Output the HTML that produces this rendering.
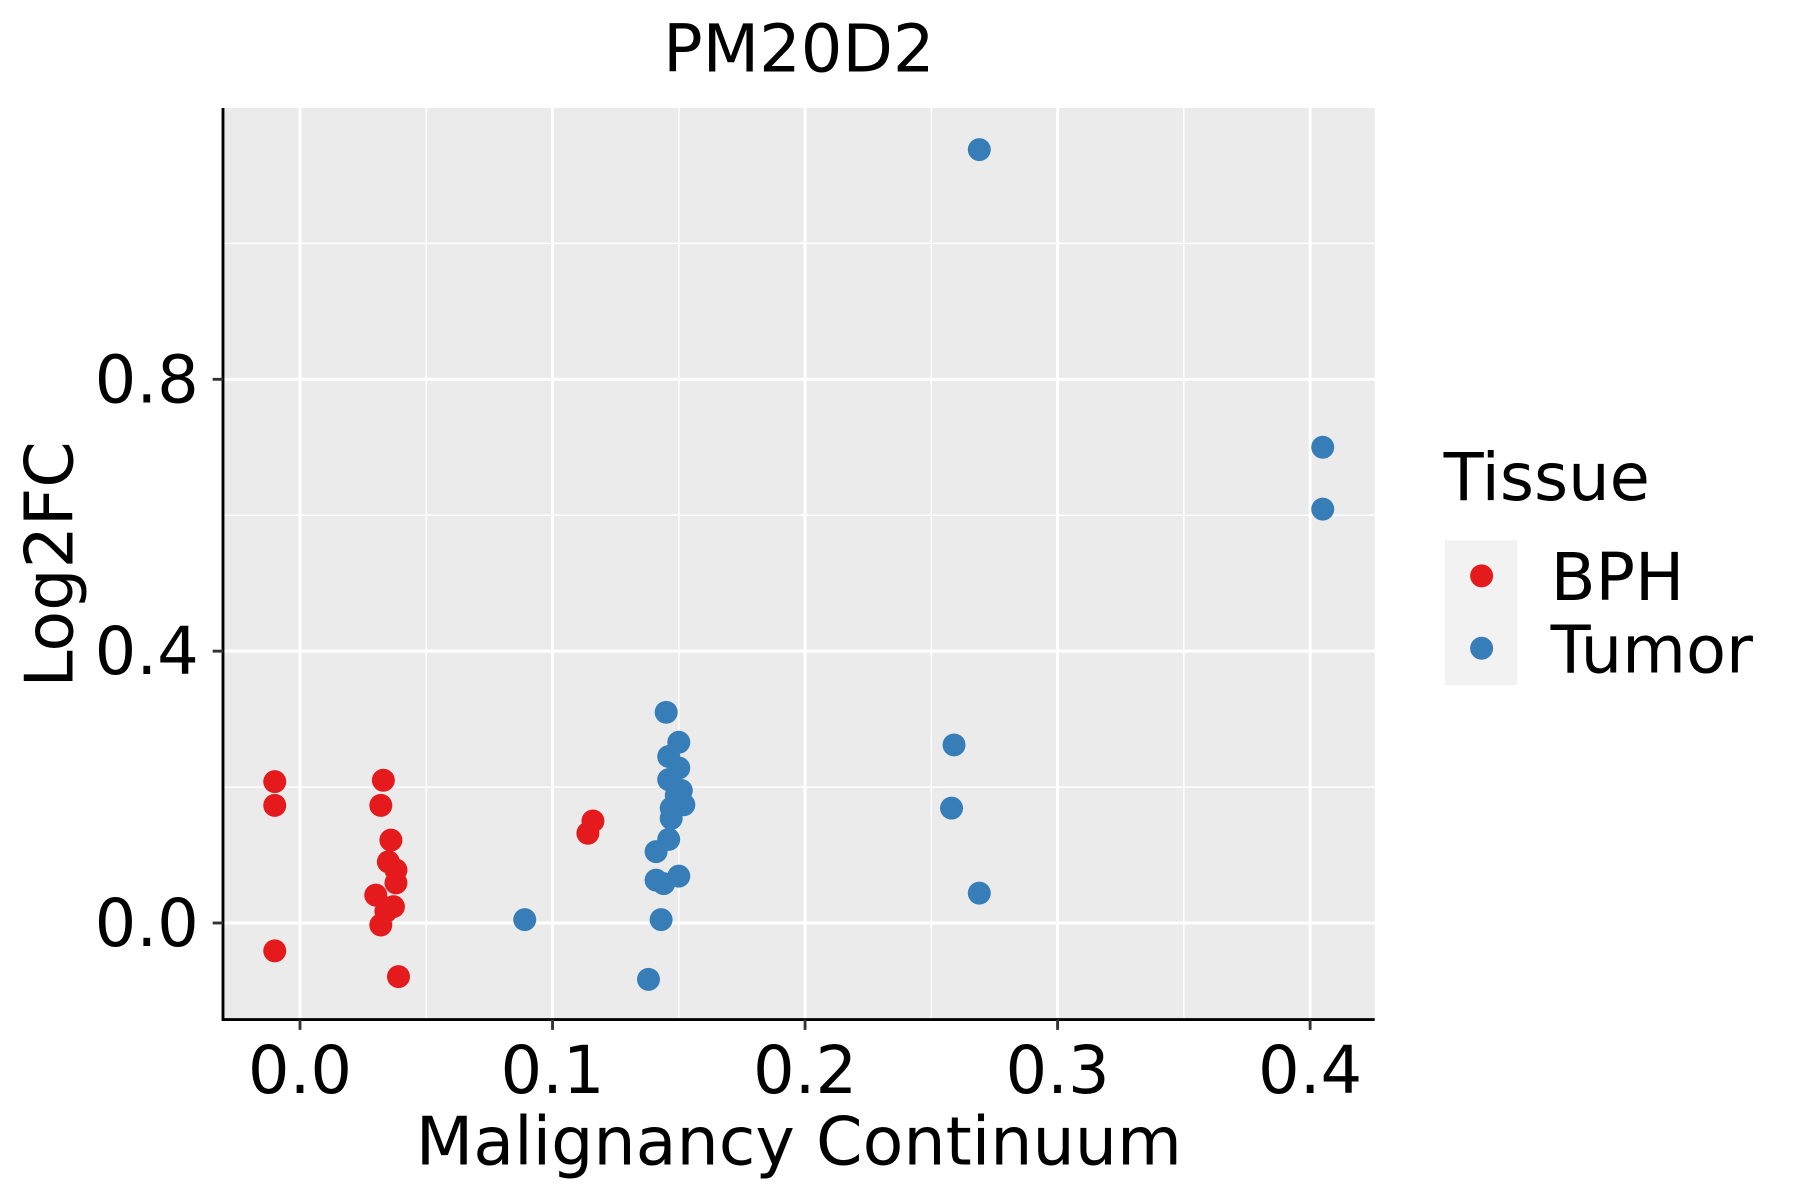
<!DOCTYPE html>
<html><head><meta charset="utf-8"><style>html,body{margin:0;padding:0;background:#fff}svg{display:block}text{font-family:"DejaVu Sans","Liberation Sans",sans-serif;fill:#000}</style></head>
<body>
<svg id="chart" width="1800" height="1200" viewBox="0 0 1566 1044" preserveAspectRatio="none" xmlns="http://www.w3.org/2000/svg">
<rect x="0" y="0" width="1566" height="1044" fill="#fff"/>
<rect x="194" y="94" width="1002" height="793" fill="#ebebeb"/>
<g id="grid"></g>
<g id="points"></g>
<line x1="194" y1="94" x2="194" y2="888" stroke="#000" stroke-width="2.5"/>
<line x1="193" y1="887" x2="1196" y2="887" stroke="#000" stroke-width="2.5"/>
<g id="ticks"></g>
<text x="695" y="62" font-size="57" text-anchor="middle">PM20D2</text>
<text x="695" y="1013" font-size="58" text-anchor="middle">Malignancy Continuum</text>
<text transform="translate(63,491) rotate(-90)" font-size="58" text-anchor="middle">Log2FC</text>
<text x="1256" y="435" font-size="57">Tissue</text>
<rect x="1257" y="470" width="63" height="126" fill="#f2f2f2"/>
<g><circle cx="1289" cy="501" r="10" fill="#e41a1c"/><text x="1349" y="522" font-size="57">BPH</text></g>
<g><circle cx="1289" cy="564" r="10" fill="#377eb8"/><text x="1349" y="585" font-size="57">Tumor</text></g>
</svg>
<script>
const xTicks=[0.0,0.1,0.2,0.3,0.4];
const xTickLabels=["0.0","0.1","0.2","0.3","0.4"];
const xMinor=[0.05,0.15,0.25,0.35];
const yTicks=[0.0,0.4,0.8];
const yTickLabels=["0.0","0.4","0.8"];
const yMinor=[0.2,0.6,1.0];
const bphX=[-0.010,-0.010,-0.010,0.033,0.032,0.036,0.035,0.038,0.038,0.030,0.037,0.034,0.032,0.039,0.116,0.114];
const bphY=[0.208,0.173,-0.041,0.210,0.173,0.122,0.090,0.078,0.059,0.041,0.024,0.017,-0.003,-0.079,0.150,0.132];
const tumorX=[0.269,0.405,0.405,0.259,0.258,0.269,0.089,0.145,0.150,0.146,0.150,0.146,0.151,0.149,0.152,0.147,0.147,0.146,0.141,0.141,0.150,0.144,0.143,0.138];
const tumorY=[1.138,0.700,0.609,0.262,0.169,0.044,0.005,0.310,0.266,0.245,0.228,0.211,0.195,0.188,0.174,0.169,0.154,0.123,0.105,0.063,0.069,0.058,0.005,-0.083];
const NS="http://www.w3.org/2000/svg";
function xs(v){return 261+v*2197;}
function ys(v){return 803-v*591.25;}
function mk(tag,attrs,parent){const e=document.createElementNS(NS,tag);for(const k in attrs)e.setAttribute(k,attrs[k]);parent.appendChild(e);return e;}
const grid=document.getElementById('grid');
const ticks=document.getElementById('ticks');
xMinor.forEach(v=>{const l=mk('line',{x1:xs(v),x2:xs(v),y1:94,y2:887,stroke:'#fff','stroke-width':1.3},grid);

});
yMinor.forEach(v=>{const l=mk('line',{x1:194,x2:1196,y1:ys(v),y2:ys(v),stroke:'#fff','stroke-width':1.3},grid);

});
xTicks.forEach((v,i)=>{const l=mk('line',{x1:xs(v),x2:xs(v),y1:94,y2:887,stroke:'#fff','stroke-width':2.6},grid);


const t=mk('line',{x1:xs(v),x2:xs(v),y1:887,y2:896,stroke:'#333','stroke-width':2.5},ticks);


const tx=mk('text',{x:xs(v),y:951,'font-size':57,'text-anchor':'middle'},ticks);tx.textContent=xTickLabels[i];

});
yTicks.forEach((v,i)=>{const l=mk('line',{x1:194,x2:1196,y1:ys(v),y2:ys(v),stroke:'#fff','stroke-width':2.6},grid);


const t=mk('line',{x1:185,x2:194,y1:ys(v),y2:ys(v),stroke:'#333','stroke-width':2.5},ticks);


const tx=mk('text',{x:173,y:ys(v)+20,'font-size':57,'text-anchor':'end'},ticks);tx.textContent=yTickLabels[i];

});
const pts=document.getElementById('points');
bphX.forEach((v,i)=>{const c=mk('circle',{cx:xs(v),cy:ys(bphY[i]),r:10,fill:'#e41a1c'},pts);

});
tumorX.forEach((v,i)=>{const c=mk('circle',{cx:xs(v),cy:ys(tumorY[i]),r:10,fill:'#377eb8'},pts);

});
</script>
</body></html>
